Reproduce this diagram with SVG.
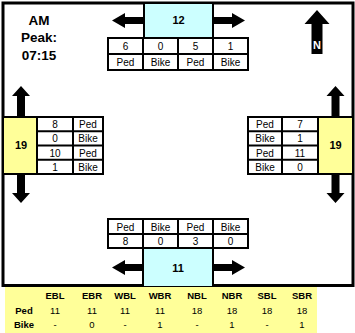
<svg xmlns="http://www.w3.org/2000/svg" width="355" height="333" viewBox="0 0 355 333">
<style>
text{font-family:"Liberation Sans",Arial,sans-serif;fill:#000}
.t{font-size:10px;text-anchor:middle}
.b{font-weight:bold}
.big{font-size:13.5px;font-weight:bold;text-anchor:middle}
.lbl{font-size:11px;font-weight:bold;text-anchor:middle}
.grid{fill:#fff;stroke:#000;stroke-width:2}
.ln{stroke:#000;stroke-width:2}
.cyan{fill:#CCFFFF;stroke:#000;stroke-width:2}
.yel{fill:#FFFF99;stroke:#000;stroke-width:2}
.arr{fill:#000}
.s{font-size:9.5px;text-anchor:middle}
</style>
<rect x="0" y="0" width="355" height="333" fill="#fff"/>
<g id="frame"><rect x="3" y="3" width="350" height="282.5" fill="none" stroke="#000" stroke-width="3"/></g>
<g id="title">
<text class="big" x="39" y="25">AM</text>
<text class="big" x="39" y="42">Peak:</text>
<text class="big" x="39" y="60">07:15</text>
</g>
<g id="connectors">
<polygon class="arr" points="112,20.5 125,13 125,17 144,17 144,24 125,24 125,28"/>
<polygon class="arr" points="245,20.5 232,13 232,17 213,17 213,24 232,24 232,28"/>
<polygon class="arr" points="112,267.5 125,260 125,264 143,264 143,271 125,271 125,275"/>
<polygon class="arr" points="245,267.5 232,260 232,264 213,264 213,271 232,271 232,275"/>
<polygon class="arr" points="21,86 12,96 17,96 17,117 25,117 25,96 30,96"/>
<polygon class="arr" points="21,203 12,193 17,193 17,174 25,174 25,193 30,193"/>
<polygon class="arr" points="335.5,86 326.5,96 331.5,96 331.5,117 339.5,117 339.5,96 344.5,96"/>
<polygon class="arr" points="335.5,203 326.5,193 331.5,193 331.5,174 339.5,174 339.5,193 344.5,193"/>
</g>
<g id="north">
<polygon class="arr" points="317,10 304.5,24 311.5,24 311.5,54 322.5,54 322.5,24 329.5,24"/>
<text class="lbl" x="317" y="49" style="fill:#fff">N</text>
</g>
<g id="node-north">
<rect class="cyan" x="144" y="3" width="69" height="35"/>
<text class="lbl" x="178.5" y="24">12</text>
<rect class="grid" x="108" y="38" width="140" height="32"/>
<line class="ln" x1="108" y1="54" x2="248" y2="54"/>
<line class="ln" x1="143" y1="38" x2="143" y2="70"/>
<line class="ln" x1="178" y1="38" x2="178" y2="70"/>
<line class="ln" x1="213" y1="38" x2="213" y2="70"/>
<text class="t" x="125.5" y="50">6</text>
<text class="t" x="160.5" y="50">0</text>
<text class="t" x="195.5" y="50">5</text>
<text class="t" x="230.5" y="50">1</text>
<text class="t" x="125.5" y="66">Ped</text>
<text class="t" x="160.5" y="66">Bike</text>
<text class="t" x="195.5" y="66">Ped</text>
<text class="t" x="230.5" y="66">Bike</text>
</g>
<g id="node-west">
<rect class="yel" x="3" y="117" width="34" height="57"/>
<text class="lbl" x="21" y="149">19</text>
<rect class="grid" x="37" y="117" width="66" height="57"/>
<line class="ln" x1="73" y1="117" x2="73" y2="174"/>
<line class="ln" x1="37" y1="131.25" x2="103" y2="131.25"/>
<line class="ln" x1="37" y1="145.5" x2="103" y2="145.5"/>
<line class="ln" x1="37" y1="159.75" x2="103" y2="159.75"/>
<text class="t" x="55" y="128">8</text>
<text class="t" x="55" y="142">0</text>
<text class="t" x="55" y="156.5">10</text>
<text class="t" x="55" y="170.5">1</text>
<text class="t" x="88" y="128">Ped</text>
<text class="t" x="88" y="142">Bike</text>
<text class="t" x="88" y="156.5">Ped</text>
<text class="t" x="88" y="170.5">Bike</text>
</g>
<g id="node-east">
<rect class="yel" x="318" y="117" width="35" height="57"/>
<text class="lbl" x="335.5" y="149">19</text>
<rect class="grid" x="248" y="117" width="70" height="57"/>
<line class="ln" x1="282" y1="117" x2="282" y2="174"/>
<line class="ln" x1="248" y1="131.25" x2="318" y2="131.25"/>
<line class="ln" x1="248" y1="145.5" x2="318" y2="145.5"/>
<line class="ln" x1="248" y1="159.75" x2="318" y2="159.75"/>
<text class="t" x="265" y="128">Ped</text>
<text class="t" x="265" y="142">Bike</text>
<text class="t" x="265" y="156.5">Ped</text>
<text class="t" x="265" y="170.5">Bike</text>
<text class="t" x="300" y="128">7</text>
<text class="t" x="300" y="142">1</text>
<text class="t" x="300" y="156.5">11</text>
<text class="t" x="300" y="170.5">0</text>
</g>
<g id="node-south">
<rect class="cyan" x="143" y="248" width="70" height="39"/>
<text class="lbl" x="178" y="272">11</text>
<rect class="grid" x="108" y="219" width="140" height="29"/>
<line class="ln" x1="108" y1="234" x2="248" y2="234"/>
<line class="ln" x1="143" y1="219" x2="143" y2="248"/>
<line class="ln" x1="178" y1="219" x2="178" y2="248"/>
<line class="ln" x1="213" y1="219" x2="213" y2="248"/>
<text class="t" x="125.5" y="231">Ped</text>
<text class="t" x="160.5" y="231">Bike</text>
<text class="t" x="195.5" y="231">Ped</text>
<text class="t" x="230.5" y="231">Bike</text>
<text class="t" x="125.5" y="245">8</text>
<text class="t" x="160.5" y="245">0</text>
<text class="t" x="195.5" y="245">3</text>
<text class="t" x="230.5" y="245">0</text>
</g>
<g id="summary">
<rect x="5" y="287" width="312" height="46" fill="#FFFF99"/>
<text class="s b" x="55" y="299">EBL</text>
<text class="s b" x="92" y="299">EBR</text>
<text class="s b" x="125" y="299">WBL</text>
<text class="s b" x="160" y="299">WBR</text>
<text class="s b" x="197" y="299">NBL</text>
<text class="s b" x="232" y="299">NBR</text>
<text class="s b" x="267" y="299">SBL</text>
<text class="s b" x="302" y="299">SBR</text>
<text class="s b" x="24" y="314">Ped</text>
<text class="s" x="55" y="314">11</text>
<text class="s" x="92" y="314">11</text>
<text class="s" x="125" y="314">11</text>
<text class="s" x="160" y="314">11</text>
<text class="s" x="197" y="314">18</text>
<text class="s" x="232" y="314">18</text>
<text class="s" x="267" y="314">18</text>
<text class="s" x="302" y="314">18</text>
<text class="s b" x="24" y="327.5">Bike</text>
<text class="s" x="55" y="327.5">-</text>
<text class="s" x="92" y="327.5">0</text>
<text class="s" x="125" y="327.5">-</text>
<text class="s" x="160" y="327.5">1</text>
<text class="s" x="197" y="327.5">-</text>
<text class="s" x="232" y="327.5">1</text>
<text class="s" x="267" y="327.5">-</text>
<text class="s" x="302" y="327.5">1</text>
</g>
</svg>
